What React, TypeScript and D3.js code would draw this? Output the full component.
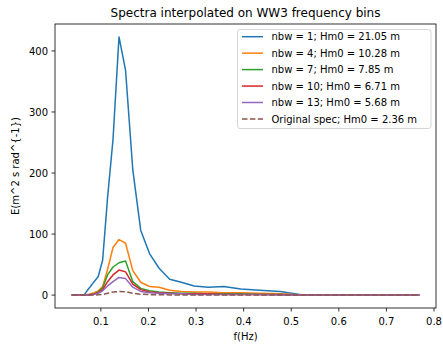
import React from "react";
import * as d3 from "d3";

const freqs = [0.04, 0.044, 0.0484, 0.0532, 0.0586, 0.0644, 0.0709, 0.078, 0.0857, 0.0943, 0.1037, 0.1141, 0.1255, 0.1381, 0.1519, 0.1671, 0.1838, 0.2022, 0.2224, 0.2446, 0.2691, 0.296, 0.3256, 0.3582, 0.394, 0.4334, 0.4767, 0.5244, 0.5768, 0.6345, 0.698, 0.7678];

const nbw1 = [0, 0, 0, 0, 0, 0, 7, 14, 22, 30, 57, 160, 255, 423, 368, 205, 106, 68, 44, 26, 21, 15, 13, 14, 10, 8, 6, 0, 0, 0, 0, 0];
const nbw4 = [0, 0, 0, 0, 0, 0, 1, 2, 4, 7, 14, 42, 78, 91, 85, 40, 21, 14, 13, 8, 6, 5, 5, 4, 4, 3, 2, 0, 0, 0, 0, 0];
const nbw7 = [0, 0, 0, 0, 0, 0, 0, 1, 2, 5, 12, 33, 46, 53, 56, 22, 11, 7, 5, 4, 3, 3, 2, 2, 2, 1, 1, 0, 0, 0, 0, 0];
const nbw10 = [0, 0, 0, 0, 0, 0, 0, 1, 2, 4, 9, 22, 33, 41, 38, 18, 9, 5, 4, 3, 2, 2, 2, 1, 1, 1, 1, 0, 0, 0, 0, 0];
const nbw13 = [0, 0, 0, 0, 0, 0, 0, 0, 1, 3, 7, 15, 22, 29, 27, 13, 6, 4, 3, 2, 2, 1, 1, 1, 1, 1, 0, 0, 0, 0, 0, 0];
const original = [0, 0, 0, 0, 0, 0, 0, 0, 0, 0.5, 1, 3, 5, 6, 5.5, 3, 1.5, 0.8, 0.5, 0.3, 0.2, 0.2, 0.1, 0.1, 0.1, 0.1, 0, 0, 0, 0, 0, 0];

const seriesLabels = [
  "nbw = 1; Hm0 = 21.05 m",
  "nbw = 4; Hm0 = 10.28 m",
  "nbw = 7; Hm0 = 7.85 m",
  "nbw = 10; Hm0 = 6.71 m",
  "nbw = 13; Hm0 = 5.68 m",
  "Original spec; Hm0 = 2.36 m",
];
const seriesValues = [nbw1, nbw4, nbw7, nbw10, nbw13, original];
const colors = ["#1f77b4", "#ff7f0e", "#2ca02c", "#d62728", "#9467bd", "#8c564b"];
const dashed = [false, false, false, false, false, true];

const xTicks = [0.1, 0.2, 0.3, 0.4, 0.5, 0.6, 0.7, 0.8];
const yTicks = [0, 100, 200, 300, 400];

const W = 443, H = 347;
const left = 55, right = 436, top = 24, bottom = 308;
const font = "DejaVu Sans, sans-serif";

export default function App() {
  const xMin = d3.min(freqs)!, xMax = d3.max(freqs)!;
  const xm = (xMax - xMin) * 0.05;
  const allY = seriesValues.flat();
  const yMin = d3.min(allY)!, yMax = d3.max(allY)!;
  const ym = (yMax - yMin) * 0.05;
  const x = d3.scaleLinear().domain([xMin - xm, xMax + xm]).range([left, right]);
  const y = d3.scaleLinear().domain([yMin - ym, yMax + ym]).range([bottom, top]);
  const line = d3.line<number>().x((_, i) => x(freqs[i])).y((d) => y(d));

  const legX = 237.5, legY = 29.5, legW = 193.5, legH = 99;
  const rowH = 16.45, row0 = 36.7;

  return (
    <svg width={W} height={H} style={{ position: "absolute", left: 0, top: 0 }} fontFamily={font}>
      <rect x={0} y={0} width={W} height={H} fill="white" />
      <text x={(left + right) / 2} y={16.5} textAnchor="middle" fontSize={12} fill="#000">
        Spectra interpolated on WW3 frequency bins
      </text>
      {seriesValues.map((vals, i) => (
        <path
          key={i}
          d={line(vals)!}
          fill="none"
          stroke={colors[i]}
          strokeWidth={1.5}
          strokeDasharray={dashed[i] ? "5.5,2.4" : undefined}
          strokeLinejoin="round"
          strokeLinecap={dashed[i] ? "butt" : "square"}
        />
      ))}
      <rect x={left} y={top} width={right - left} height={bottom - top} fill="none" stroke="#000" strokeWidth={0.8} />
      {xTicks.map((t) => (
        <g key={t}>
          <line x1={x(t)} x2={x(t)} y1={bottom} y2={bottom + 3.5} stroke="#000" strokeWidth={0.8} />
          <text x={x(t)} y={bottom + 16.5} textAnchor="middle" fontSize={10} fill="#000">
            {t.toFixed(1)}
          </text>
        </g>
      ))}
      {yTicks.map((t) => (
        <g key={t}>
          <line x1={left - 3.5} x2={left} y1={y(t)} y2={y(t)} stroke="#000" strokeWidth={0.8} />
          <text x={left - 7} y={y(t) + 3.6} textAnchor="end" fontSize={10} fill="#000">
            {t}
          </text>
        </g>
      ))}
      <text x={(left + right) / 2} y={340} textAnchor="middle" fontSize={10} fill="#000">
        f(Hz)
      </text>
      <text
        transform={`translate(18.5,${(top + bottom) / 2}) rotate(-90)`}
        textAnchor="middle"
        fontSize={10}
        fill="#000"
      >
        {"E(m^2 s rad^{-1})"}
      </text>
      <rect x={legX} y={legY} width={legW} height={legH} rx={2.5} fill="white" fillOpacity={0.8} stroke="#cccccc" strokeWidth={0.8} />
      {seriesLabels.map((lab, i) => {
        const cy = row0 + i * rowH;
        return (
          <g key={lab}>
            <line
              x1={242}
              x2={263}
              y1={cy}
              y2={cy}
              stroke={colors[i]}
              strokeWidth={1.5}
              strokeDasharray={dashed[i] ? "5.5,2.4" : undefined}
            />
            <text x={271.5} y={cy + 3.6} fontSize={10} fill="#000">
              {lab}
            </text>
          </g>
        );
      })}
    </svg>
  );
}
